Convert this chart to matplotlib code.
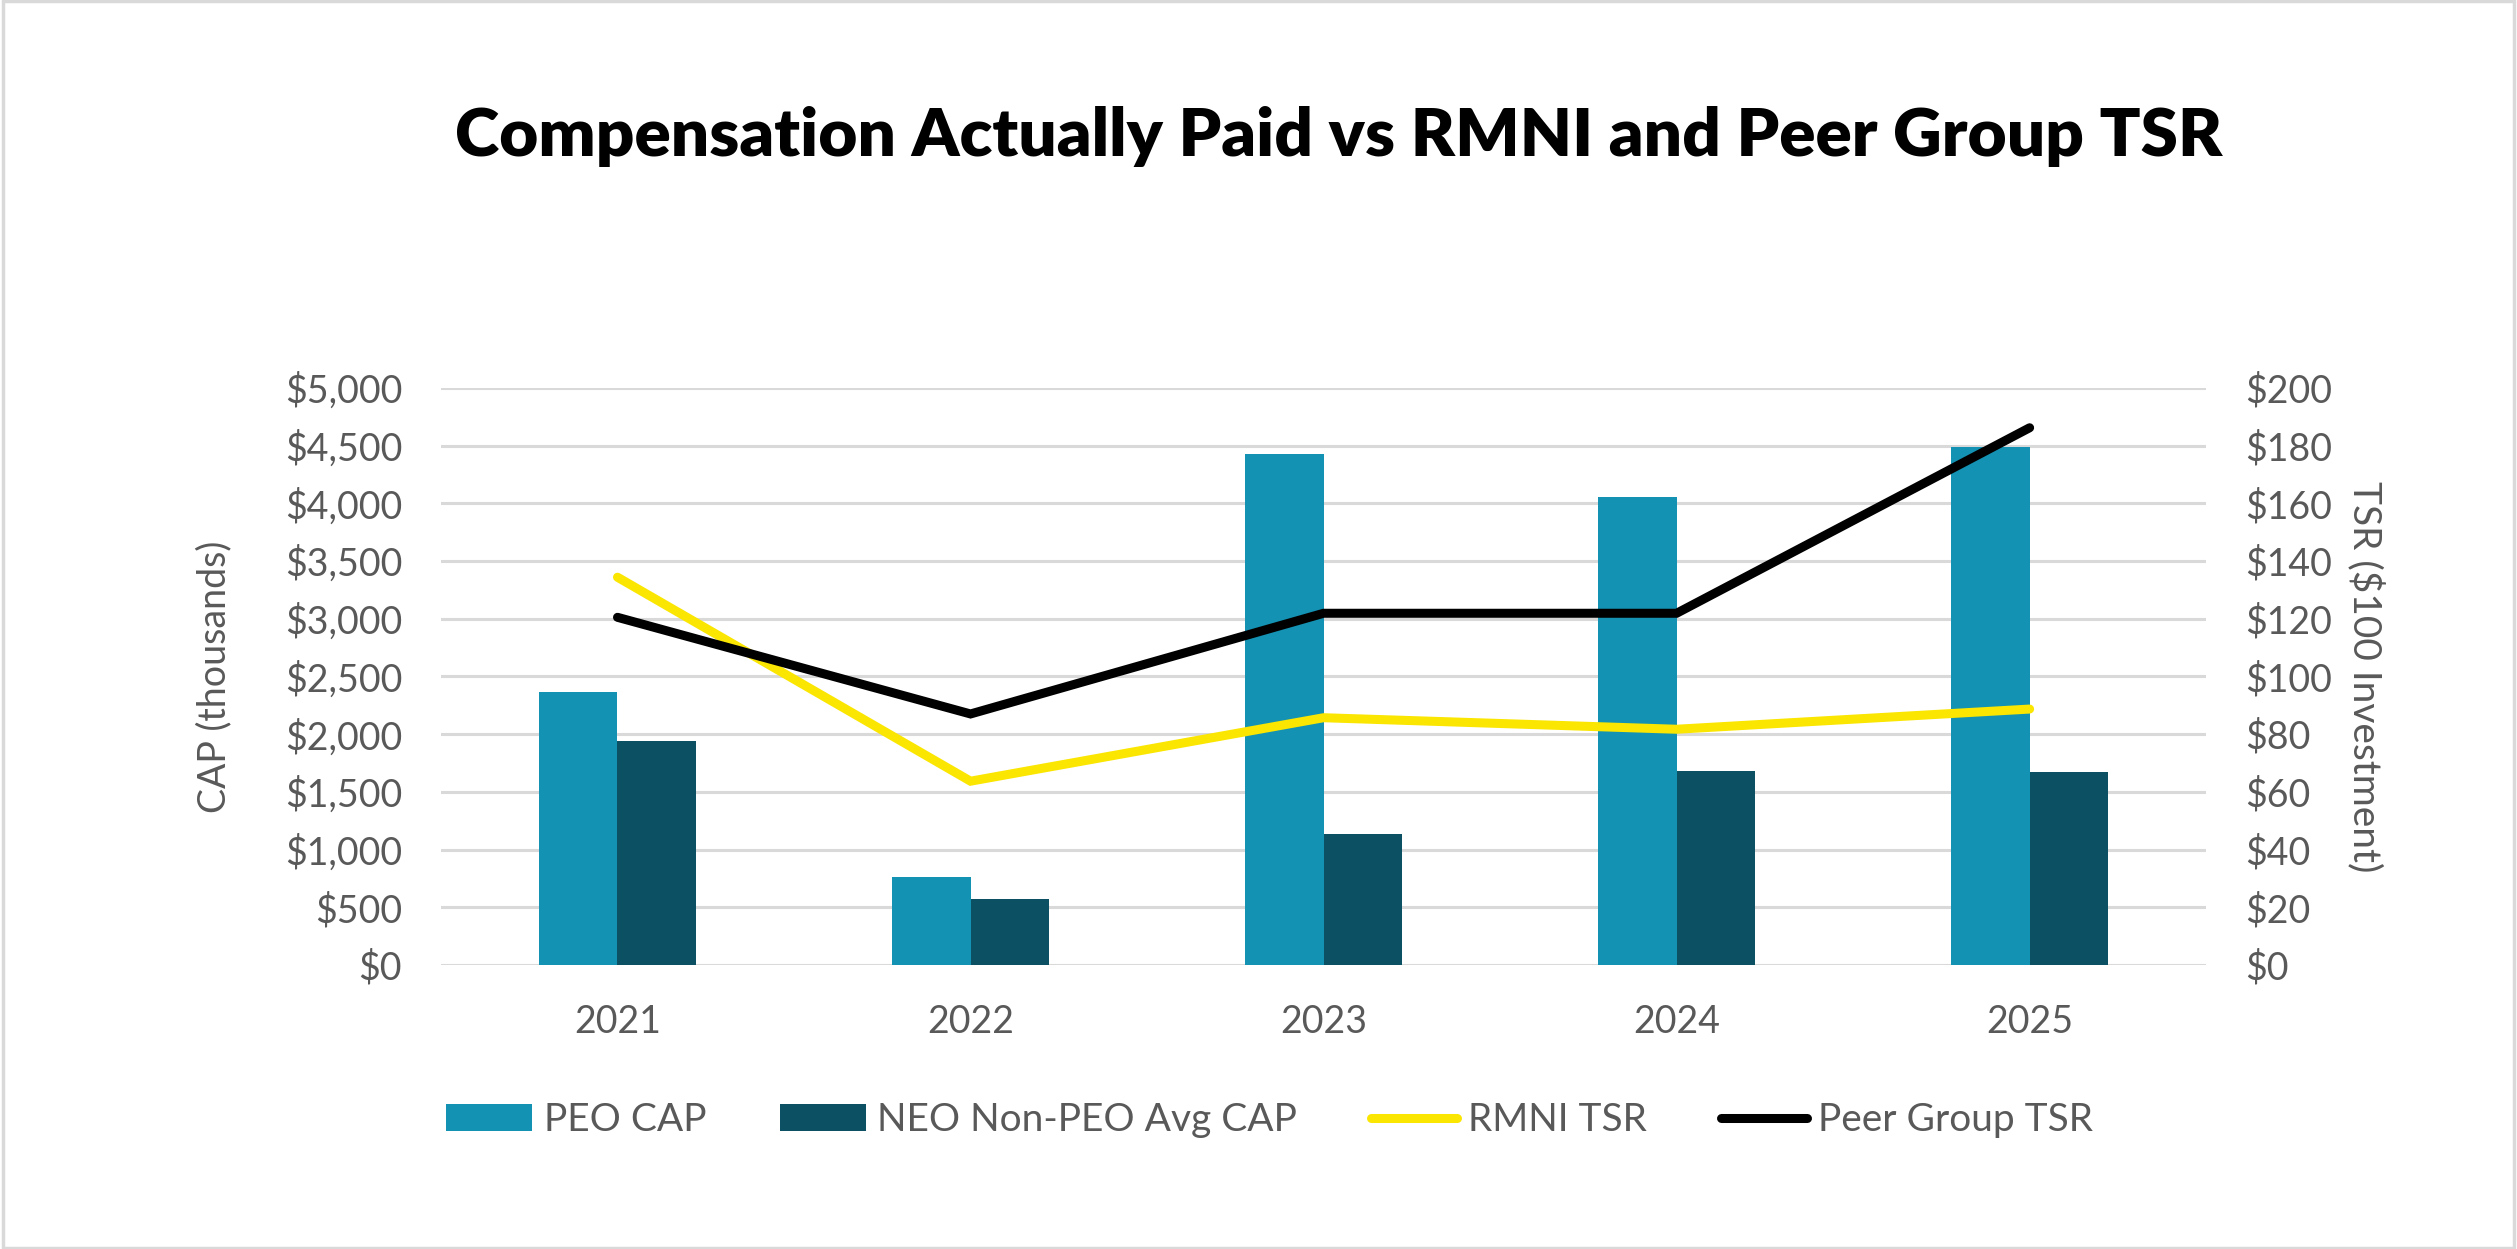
import numpy as np
import matplotlib
matplotlib.use("Agg")
import matplotlib.pyplot as plt
from matplotlib.ticker import FuncFormatter, MultipleLocator
from matplotlib.patches import Rectangle

plt.rcParams['font.family'] = ['Lato', 'DejaVu Sans']

# data
years = ['2021', '2022', '2023', '2024', '2025']
peo_cap = [2365, 766, 4425, 4055, 4490]
neo_cap = [1941, 568, 1132, 1679, 1668]
rmni_tsr = [134.4, 63.7, 85.7, 81.7, 88.7]
peer_tsr = [120.5, 87.0, 121.9, 121.9, 186.2]

GREY = '#595959'
GRID = '#D9D9D9'

fig = plt.figure(figsize=(25.17, 12.49), dpi=100)
ax = fig.add_axes([0.1752, 0.2274, 0.7013, 0.462])
ax2 = ax.twinx()

x = np.arange(len(years))
w = 0.223
b1 = ax.bar(x - w / 2, peo_cap, w, color='#1392B3', label='PEO CAP', zorder=2)
b2 = ax.bar(x + w / 2, neo_cap, w, color='#0C5163', label='NEO Non-PEO Avg CAP', zorder=2)

l1, = ax2.plot(x, rmni_tsr, color='#FAE600', lw=6.5, solid_capstyle='round',
               solid_joinstyle='miter', label='RMNI TSR')
l2, = ax2.plot(x, peer_tsr, color='black', lw=6.5, solid_capstyle='round',
               solid_joinstyle='miter', label='Peer Group TSR')

ax.set_xlim(-0.5, 4.5)
ax.set_ylim(0, 5000)
ax2.set_ylim(0, 200)
ax.yaxis.set_major_locator(MultipleLocator(500))
ax2.yaxis.set_major_locator(MultipleLocator(20))
ax.yaxis.set_major_formatter(FuncFormatter(lambda v, p: '${:,.0f}'.format(v)))
ax2.yaxis.set_major_formatter(FuncFormatter(lambda v, p: '${:,.0f}'.format(v)))
ax.set_xticks(x)
ax.set_xticklabels(years)

ax.grid(axis='y', color=GRID, lw=2.2, zorder=0)
ax.set_axisbelow(True)
for a in (ax, ax2):
    for s in a.spines.values():
        s.set_visible(False)
    a.tick_params(length=0, labelsize=27, labelcolor=GREY)
ax.tick_params(axis='y', pad=28)
ax.tick_params(axis='x', pad=28)
ax2.tick_params(axis='y', pad=28)

ax.set_ylabel('CAP (thousands)', fontsize=27, color=GREY, labelpad=38)
ax2.set_ylabel('TSR ($100 Investment)', fontsize=28, color=GREY, rotation=270,
               labelpad=38)

fig.text(0.532, 0.891, 'Compensation Actually Paid vs RMNI and Peer Group TSR',
         ha='center', va='center', fontsize=48.5, fontweight='heavy', color='black')

leg = fig.legend([b1, b2, l1, l2],
                 ['PEO CAP', 'NEO Non-PEO Avg CAP', 'RMNI TSR', 'Peer Group TSR'],
                 loc='center', bbox_to_anchor=(0.5045, 0.103), ncol=4, frameon=False,
                 fontsize=28, handlelength=2.2, handleheight=0.7,
                 handletextpad=0.3, columnspacing=1.9)
for t in leg.get_texts():
    t.set_color(GREY)

# light frame around the whole chart
fig.patches.append(Rectangle((0.001, 0.001), 0.998, 0.998, transform=fig.transFigure,
                             fill=False, edgecolor=GRID, lw=2.5))

fig.savefig('out.png', dpi=100, facecolor='white')
